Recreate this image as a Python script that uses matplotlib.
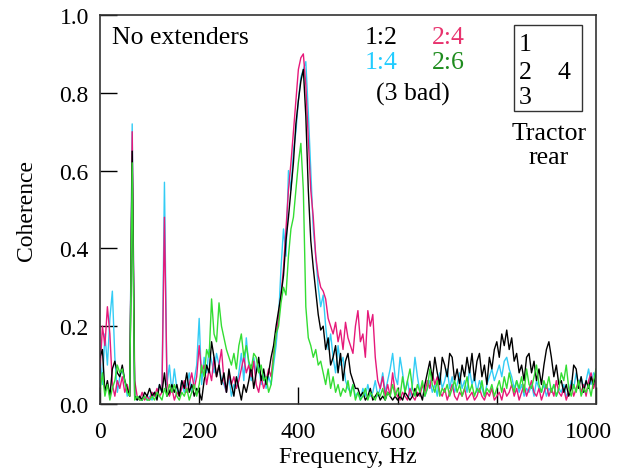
import numpy as np
import matplotlib
matplotlib.use("Agg")
import matplotlib.pyplot as plt
import matplotlib.transforms as mtrans
from matplotlib.patches import Rectangle

freq = np.arange(0, 1001, 5)

coh_1_2 = [
    0.12, 0.14, 0.03, 0.06, 0.02, 0.09, 0.11, 0.08, 0.07, 0.10,
    0.06, 0.04, 0.02, 0.65, 0.02, 0.01, 0.02, 0.01, 0.03, 0.02,
    0.04, 0.02, 0.03, 0.01, 0.05, 0.03, 0.08, 0.02, 0.03, 0.05,
    0.03, 0.05, 0.02, 0.06, 0.04, 0.08, 0.03, 0.05, 0.02, 0.04,
    0.03, 0.01, 0.06, 0.10, 0.08, 0.16, 0.12, 0.07, 0.10, 0.05,
    0.08, 0.03, 0.09, 0.05, 0.02, 0.07, 0.04, 0.01, 0.05, 0.03,
    0.06, 0.10, 0.04, 0.08, 0.12, 0.06, 0.09, 0.05, 0.08, 0.12,
    0.15, 0.20, 0.24, 0.28, 0.33, 0.42, 0.48, 0.55, 0.62, 0.72,
    0.78, 0.83, 0.86, 0.74, 0.55, 0.42, 0.35, 0.29, 0.23, 0.19,
    0.20, 0.14, 0.17, 0.10, 0.12, 0.15, 0.08, 0.13, 0.06, 0.11,
    0.13, 0.08, 0.06, 0.04, 0.04, 0.02, 0.03, 0.01, 0.02, 0.04,
    0.01, 0.02, 0.03, 0.01, 0.02, 0.01, 0.03, 0.02, 0.01, 0.02,
    0.01, 0.02, 0.01, 0.03, 0.02, 0.01, 0.02, 0.04, 0.02, 0.03,
    0.01, 0.05, 0.08, 0.11, 0.06, 0.12, 0.08, 0.05, 0.12, 0.10,
    0.07, 0.13, 0.12, 0.06, 0.09, 0.05, 0.10, 0.07, 0.12, 0.08,
    0.13, 0.06, 0.11, 0.13, 0.07, 0.10, 0.05, 0.12, 0.09, 0.14,
    0.16, 0.12, 0.18, 0.15, 0.19, 0.14, 0.17, 0.11, 0.13, 0.08,
    0.10, 0.06, 0.12, 0.13, 0.08, 0.11, 0.06, 0.09, 0.05, 0.10,
    0.14, 0.16, 0.12, 0.07, 0.10, 0.05, 0.06, 0.03, 0.05, 0.02,
    0.04, 0.10, 0.09, 0.04, 0.07, 0.03, 0.06, 0.04, 0.07, 0.05,
    0.08,
]

coh_1_4 = [
    0.12, 0.05, 0.18, 0.10, 0.22, 0.29, 0.12, 0.03, 0.07, 0.09,
    0.06, 0.02, 0.03, 0.72, 0.02, 0.01, 0.02, 0.01, 0.02, 0.01,
    0.02, 0.01, 0.03, 0.02, 0.05, 0.03, 0.57, 0.05, 0.10, 0.03,
    0.09, 0.04, 0.02, 0.06, 0.03, 0.05, 0.08, 0.03, 0.06, 0.10,
    0.22, 0.05, 0.12, 0.08, 0.14, 0.11, 0.08, 0.13, 0.10, 0.06,
    0.05, 0.03, 0.07, 0.02, 0.05, 0.04, 0.08, 0.13, 0.06, 0.17,
    0.10, 0.06, 0.12, 0.08, 0.10, 0.05, 0.08, 0.04, 0.07, 0.05,
    0.10, 0.15, 0.22, 0.35, 0.45, 0.38, 0.60, 0.55, 0.65, 0.70,
    0.78, 0.84, 0.86, 0.88, 0.75, 0.60, 0.45, 0.38, 0.30, 0.25,
    0.28, 0.20, 0.14, 0.18, 0.12, 0.08, 0.15, 0.10, 0.12, 0.06,
    0.04, 0.03, 0.05, 0.02, 0.03, 0.01, 0.04, 0.02, 0.05, 0.02,
    0.03, 0.06, 0.02, 0.04, 0.08, 0.03, 0.06, 0.09, 0.13, 0.07,
    0.05, 0.12, 0.08, 0.03, 0.06, 0.02, 0.05, 0.12, 0.07, 0.03,
    0.05, 0.02, 0.04, 0.06, 0.03, 0.05, 0.02, 0.08, 0.04, 0.06,
    0.09, 0.04, 0.07, 0.03, 0.05, 0.08, 0.04, 0.06, 0.03, 0.09,
    0.05, 0.07, 0.03, 0.06, 0.04, 0.02, 0.05, 0.07, 0.09, 0.06,
    0.08, 0.10, 0.07, 0.11, 0.12, 0.09, 0.07, 0.04, 0.06, 0.03,
    0.05, 0.02, 0.04, 0.03, 0.05, 0.02, 0.06, 0.04, 0.03, 0.05,
    0.02, 0.04, 0.03, 0.05, 0.02, 0.04, 0.03, 0.05, 0.02, 0.03,
    0.06, 0.04, 0.08, 0.05, 0.07, 0.04, 0.06, 0.09, 0.05, 0.08,
    0.07,
]

coh_2_4 = [
    0.08, 0.20, 0.15, 0.25, 0.18, 0.05, 0.02, 0.06, 0.04, 0.07,
    0.03, 0.05, 0.02, 0.70, 0.06, 0.02, 0.01, 0.03, 0.01, 0.02,
    0.01, 0.03, 0.02, 0.04, 0.02, 0.03, 0.48, 0.06, 0.02, 0.04,
    0.01, 0.03, 0.02, 0.04, 0.06, 0.03, 0.05, 0.08, 0.04, 0.07,
    0.15, 0.08, 0.10, 0.05, 0.09, 0.06, 0.12, 0.07, 0.10, 0.14,
    0.06, 0.03, 0.08, 0.05, 0.07, 0.04, 0.06, 0.09, 0.12, 0.08,
    0.10, 0.07, 0.11, 0.05, 0.03, 0.07, 0.04, 0.06, 0.09, 0.07,
    0.13, 0.18, 0.22, 0.28, 0.35, 0.45, 0.55, 0.62, 0.70, 0.78,
    0.86, 0.89, 0.90, 0.82, 0.68, 0.55, 0.48, 0.38, 0.33, 0.30,
    0.29, 0.27, 0.22, 0.20, 0.18, 0.21, 0.16, 0.19, 0.14, 0.21,
    0.17, 0.15, 0.13, 0.20, 0.24, 0.16, 0.18, 0.12, 0.24, 0.20,
    0.23, 0.12, 0.06, 0.04, 0.07, 0.02, 0.05, 0.02, 0.08, 0.03,
    0.02, 0.01, 0.03, 0.02, 0.01, 0.04, 0.02, 0.01, 0.03, 0.02,
    0.05, 0.03, 0.06, 0.04, 0.08, 0.05, 0.07, 0.03, 0.02, 0.04,
    0.01, 0.03, 0.05, 0.02, 0.01, 0.03, 0.02, 0.04, 0.01, 0.02,
    0.03, 0.01, 0.02, 0.04, 0.02, 0.01, 0.03, 0.02, 0.04, 0.01,
    0.02, 0.03, 0.01, 0.04, 0.02, 0.03, 0.05, 0.02, 0.04, 0.01,
    0.03, 0.05, 0.02, 0.04, 0.06, 0.03, 0.02, 0.04, 0.01, 0.03,
    0.05, 0.02, 0.04, 0.02, 0.06, 0.03, 0.02, 0.04, 0.01, 0.03,
    0.05, 0.02, 0.04, 0.06, 0.03, 0.05, 0.02, 0.06, 0.08, 0.04,
    0.06,
]

coh_2_6 = [
    0.03, 0.08, 0.02, 0.05, 0.01, 0.04, 0.06, 0.10, 0.08, 0.09,
    0.06, 0.03, 0.02, 0.62, 0.01, 0.02, 0.01, 0.01, 0.02, 0.01,
    0.01, 0.02, 0.01, 0.03, 0.02, 0.01, 0.04, 0.02, 0.05, 0.03,
    0.05, 0.02, 0.01, 0.03, 0.02, 0.04, 0.01, 0.03, 0.05, 0.02,
    0.05, 0.10, 0.07, 0.14, 0.12, 0.27, 0.18, 0.16, 0.26, 0.20,
    0.17, 0.14, 0.12, 0.10, 0.13, 0.09, 0.15, 0.18, 0.12, 0.15,
    0.11, 0.09, 0.13, 0.12, 0.08, 0.10, 0.06, 0.07, 0.03, 0.05,
    0.12, 0.18, 0.20, 0.26, 0.30, 0.28, 0.38, 0.45, 0.48, 0.55,
    0.62, 0.67, 0.55, 0.25, 0.17, 0.15, 0.12, 0.14, 0.10, 0.11,
    0.08, 0.05, 0.09, 0.04, 0.07, 0.03, 0.05, 0.02, 0.04, 0.03,
    0.06, 0.02, 0.05, 0.01, 0.03, 0.01, 0.02, 0.04, 0.01, 0.03,
    0.02, 0.01, 0.03, 0.02, 0.04, 0.01, 0.03, 0.02, 0.05, 0.02,
    0.04, 0.02, 0.07, 0.03, 0.06, 0.09, 0.04, 0.02, 0.05, 0.03,
    0.06, 0.02, 0.04, 0.09, 0.05, 0.03, 0.06, 0.02, 0.04, 0.03,
    0.05, 0.02, 0.04, 0.06, 0.03, 0.05, 0.02, 0.04, 0.07, 0.03,
    0.05, 0.02, 0.04, 0.03, 0.06, 0.02, 0.04, 0.03, 0.05, 0.02,
    0.04, 0.06, 0.03, 0.07, 0.04, 0.08, 0.05, 0.03, 0.06, 0.04,
    0.07, 0.03, 0.09, 0.05, 0.04, 0.07, 0.10, 0.05, 0.03, 0.06,
    0.04, 0.07, 0.03, 0.05, 0.02, 0.04, 0.08, 0.06, 0.10, 0.04,
    0.02, 0.05, 0.03, 0.06, 0.02, 0.04, 0.03, 0.05, 0.02, 0.06,
    0.09,
]

x_ticks = [0, 200, 400, 600, 800, 1000]
y_ticks = [0.0, 0.2, 0.4, 0.6, 0.8, 1.0]

plt.rcParams['font.family'] = ['Liberation Serif', 'DejaVu Serif']

fig = plt.figure(figsize=(6.17, 4.77), dpi=100)
ax = fig.add_axes([0.162, 0.151, 0.804, 0.8155])

c_black = '#000000'
c_cyan = '#33CCF5'
c_mag = '#E6197A'
c_green = '#33DD33'

ax.plot(freq, coh_1_4, color=c_cyan, lw=1.0)
ax.plot(freq, coh_2_4, color=c_mag, lw=1.0)
ax.plot(freq, coh_1_2, color=c_black, lw=1.0)
ax.plot(freq, coh_2_6, color=c_green, lw=1.0)

ax.set_xlim(0, 1000)
ax.set_ylim(0, 1.0)
ax.set_xticks(x_ticks)
ax.set_yticks(y_ticks)
ax.set_xticklabels([str(t) for t in x_ticks])
ax.set_yticklabels([f"{t:.1f}" for t in y_ticks])
ax.tick_params(direction='in', length=12, width=1, labelsize=17, top=False, right=False)
ax.tick_params(axis='x', pad=12)
ax.tick_params(axis='y', pad=8)
for s in ax.spines.values():
    s.set_color('#333333')
    s.set_linewidth(1.2)

# nudge the last x tick label so it stays inside the figure
last = ax.get_xticklabels()[-1]
last.set_transform(last.get_transform() + mtrans.ScaledTranslation(-8 / 100, 0, fig.dpi_scale_trans))

ax.set_xlabel('Frequency, Hz', fontsize=17, labelpad=3)
ax.set_ylabel('Coherence', fontsize=17, labelpad=16)

tf = ax.transAxes
ax.text(0.024, 0.943, 'No extenders', transform=tf, fontsize=18.5, ha='left', va='center')
ax.text(0.567, 0.943, '1:2', transform=tf, fontsize=18.5, ha='center', va='center', color='black')
ax.text(0.702, 0.943, '2:4', transform=tf, fontsize=18.5, ha='center', va='center', color='#E8336E')
ax.text(0.567, 0.879, '1:4', transform=tf, fontsize=18.5, ha='center', va='center', color='#22CCFF')
ax.text(0.702, 0.879, '2:6', transform=tf, fontsize=18.5, ha='center', va='center', color='#1E8C1E')
ax.text(0.631, 0.797, '(3 bad)', transform=tf, fontsize=18.5, ha='center', va='center')

ax.add_patch(Rectangle((0.835, 0.753), 0.137, 0.221, transform=tf, fill=False,
                       edgecolor='#333333', lw=1.0))
ax.text(0.845, 0.925, '1', transform=tf, fontsize=18.5, ha='left', va='center')
ax.text(0.845, 0.853, '2', transform=tf, fontsize=18.5, ha='left', va='center')
ax.text(0.845, 0.789, '3', transform=tf, fontsize=18.5, ha='left', va='center')
ax.text(0.935, 0.853, '4', transform=tf, fontsize=18.5, ha='center', va='center')
ax.text(0.905, 0.696, 'Tractor', transform=tf, fontsize=18.5, ha='center', va='center')
ax.text(0.905, 0.634, 'rear', transform=tf, fontsize=18.5, ha='center', va='center')

fig.savefig('out.png', dpi=100)
